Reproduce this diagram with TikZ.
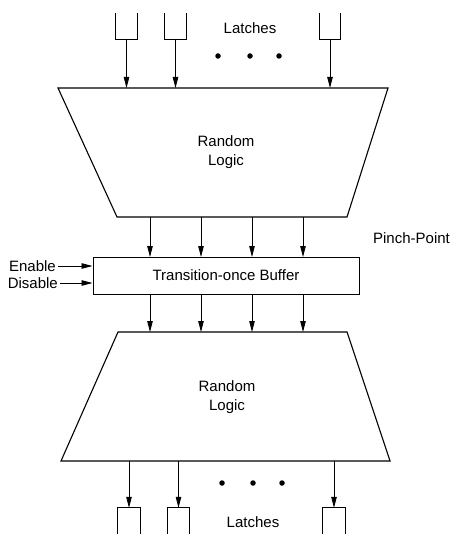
\documentclass[tikz,border=0pt]{standalone}
\usepackage{fontspec}
\setmainfont{Liberation Sans}
\usetikzlibrary{arrows.meta}
\begin{document}
\begin{tikzpicture}[x=1pt,y=-1pt,
  lbl/.style={font=\fontsize{15}{19}\selectfont, inner sep=0pt, align=center},
  arr/.style={line width=0.8pt, -{Triangle[length=11pt,width=5.5pt]}},
  box/.style={line width=1.1pt},
  latch/.style={inner sep=0pt, minimum width=21pt, minimum height=26pt},
  dot/.style={circle, fill=black, inner sep=0pt, minimum size=5.5pt}]
\useasboundingbox (0,0) rectangle (453,534);
% top latches (open top)
\node[latch] (lt1) at (126.5,26) {};
\node[latch] (lt2) at (175.5,26) {};
\node[latch] (lt3) at (330,26) {};
\foreach \n in {lt1,lt2,lt3}
  \draw[line width=0.9pt] (\n.north west) |- (\n.south east) -- (\n.north east);
\node[lbl] (latchtop) at (250,28) {Latches};
\node[dot] (d1) at (218,56) {};
\node[dot] (d2) at (250,56) {};
\node[dot] (d3) at (279,56) {};
% top random logic
\coordinate (T1) at (58,88);
\coordinate (T2) at (388,88);
\coordinate (T3) at (347,217);
\coordinate (T4) at (117,217);
\draw[box] (T1) -- (T2) -- (T3) -- (T4) -- cycle;
\node[lbl] (rl1) at (226,152) {Random\\Logic};
\foreach \n in {lt1,lt2,lt3}
  \draw[arr] (\n.south) -- (\n.south |- T1);
% buffer
\node[draw, line width=1pt, minimum width=266pt, minimum height=37pt, inner sep=0pt,
      font=\fontsize{15}{19}\selectfont] (buf) at (226,275.5) {Transition-once Buffer};
\foreach \x in {150,201,252,303}
  \draw[arr] (\x,217) -- (\x,257);
% bottom random logic
\coordinate (B1) at (118,332);
\coordinate (B2) at (347,332);
\coordinate (B3) at (390,461);
\coordinate (B4) at (61,461);
\draw[box] (B1) -- (B2) -- (B3) -- (B4) -- cycle;
\node[lbl] (rl2) at (227,397) {Random\\Logic};
\foreach \x in {150,201,252,303}
  \draw[arr] (\x,294) -- (\x,332);
% enable / disable
\node[lbl, anchor=east] (en) at (56,266) {Enable};
\node[lbl, anchor=east] (dis) at (58,283) {Disable};
\draw[arr] ([xshift=2pt]en.east) -- (en.east -| buf.west);
\draw[arr] ([xshift=2pt]dis.east) -- (dis.east -| buf.west);
\node[lbl] (pp) at (411.5,238) {Pinch-Point};
% bottom latches (closed top, cut by the page edge)
\node[latch, minimum width=22pt, minimum height=30pt] (lb1) at (129,523) {};
\node[latch, minimum width=21pt, minimum height=30pt] (lb2) at (178.5,523) {};
\node[latch, minimum width=22pt, minimum height=30pt] (lb3) at (334,523) {};
\foreach \n in {lb1,lb2,lb3}
  \draw[line width=0.9pt] (\n.south west) |- (\n.north east) -- (\n.south east);
\foreach \n in {lb1,lb2,lb3}
  \draw[arr] (\n.north |- B4) -- (\n.north);
\node[dot] (e1) at (222,483) {};
\node[dot] (e2) at (253,483) {};
\node[dot] (e3) at (282,483) {};
\node[lbl] (latchbot) at (253,522) {Latches};
\end{tikzpicture}
\end{document}
